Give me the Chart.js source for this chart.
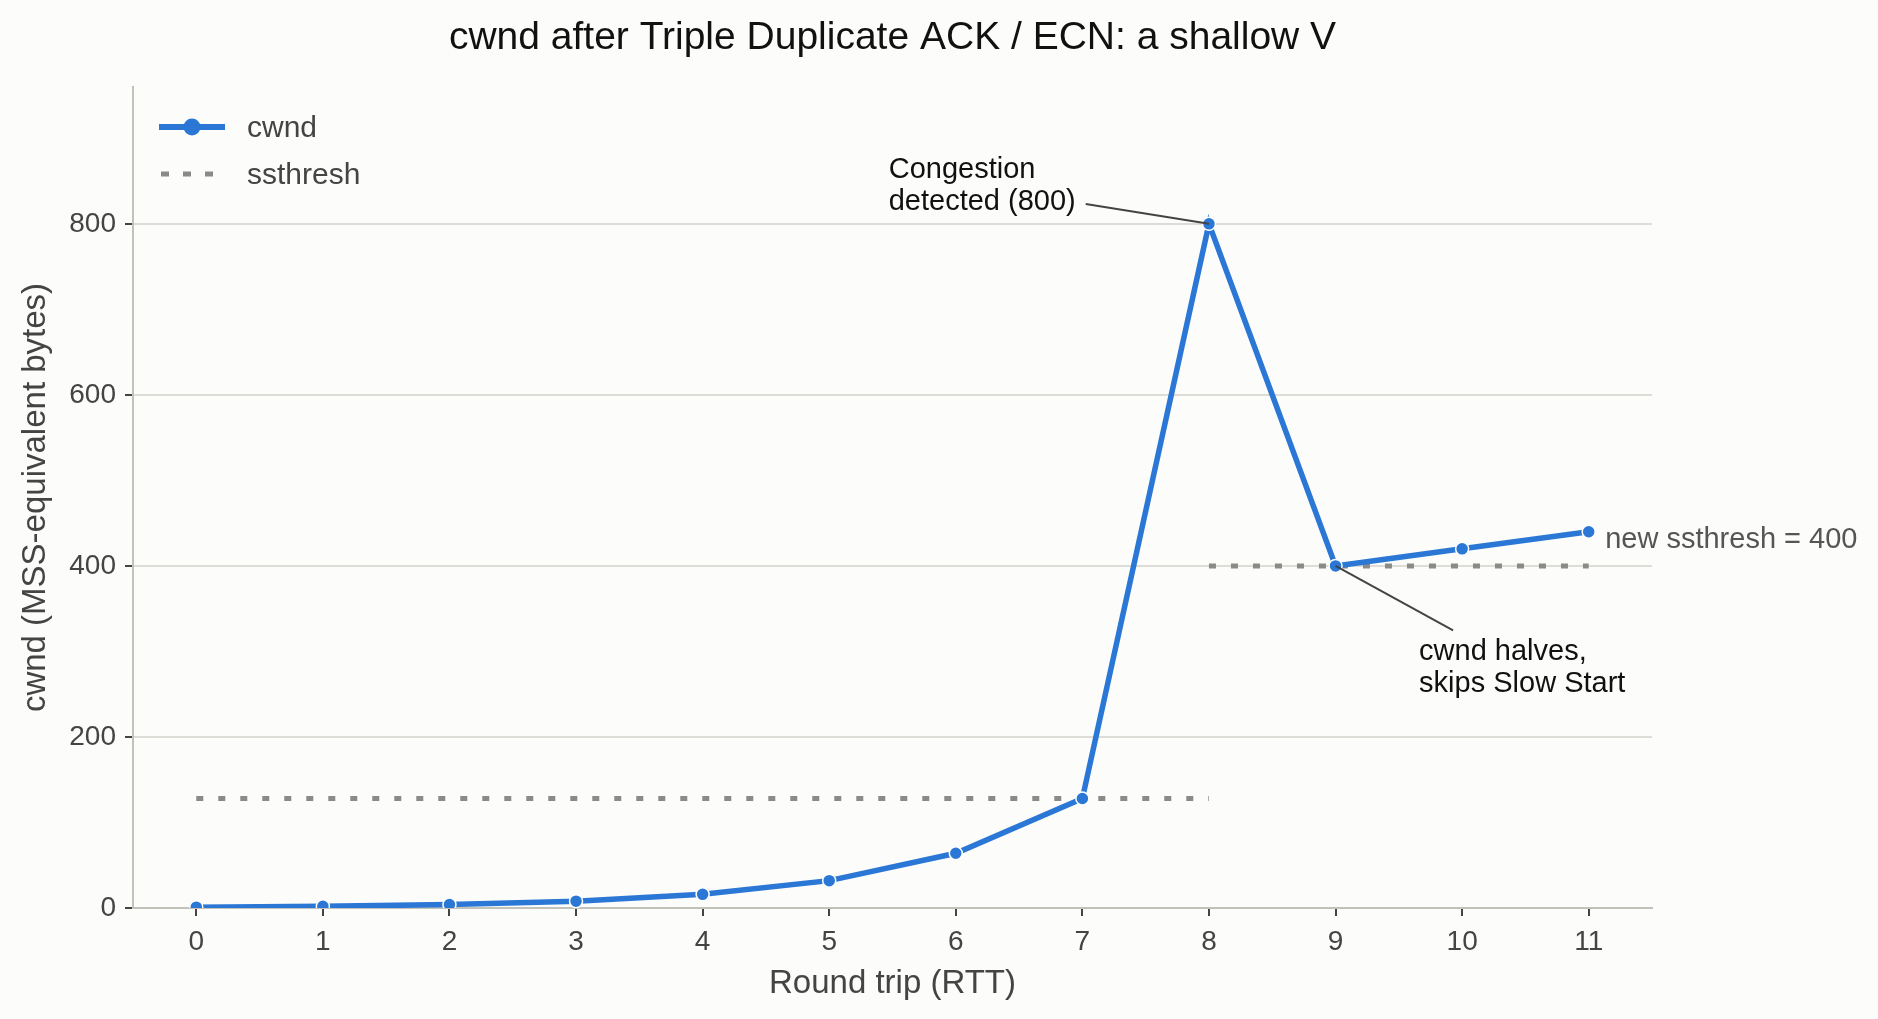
<!DOCTYPE html>
<html>
<head>
<meta charset="utf-8">
<script src="https://cdn.jsdelivr.net/npm/chart.js@4.4.1/dist/chart.umd.min.js"></script>
<style>
  html, body { margin: 0; padding: 0; background: #fcfcfa; }
  #wrap { width: 1878px; height: 1019px; }
</style>
</head>
<body>
<div id="wrap"><canvas id="chart" width="1878" height="1019"></canvas></div>
<script>
const rounds = [0, 1, 2, 3, 4, 5, 6, 7, 8, 9, 10, 11];
const cwnd = [1, 2, 4, 8, 16, 32, 64, 128, 800, 400, 420, 440];
const ssthreshX = [0, 8, 8, 8, 11];
const ssthreshY = [128, 128, null, 400, 400];
const xTicks = [0, 1, 2, 3, 4, 5, 6, 7, 8, 9, 10, 11];
const yTicks = [0, 200, 400, 600, 800];

const BLUE = '#2a77d6';
const DOT = '#8a8a88';
const FONT = "'Liberation Sans', Arial, sans-serif";

// notes: text lines, text anchor (data units), arrow target (data units)
const notes = [
    { lines: ['Congestion', 'detected (800)'], x: 5.47, y: 863, color: '#111', target: { x: 8, y: 800 }, from: 'right' },
    { lines: ['cwnd halves,', 'skips Slow Start'], x: 9.66, y: 299, color: '#111', target: { x: 9, y: 400 }, from: 'top' },
    { lines: ['new ssthresh = 400'], x: 11.13, y: 430, color: '#555', target: null }
];

const drawExtras = {
    id: 'drawExtras',
    afterDatasetsDraw(chart) {
        const { ctx, chartArea, scales: { x, y } } = chart;
        ctx.save();
        // title
        ctx.fillStyle = '#111';
        ctx.font = `39px ${FONT}`;
        ctx.textAlign = 'center';
        ctx.textBaseline = 'middle';
        ctx.fillText('cwnd after Triple Duplicate ACK / ECN: a shallow V', (chartArea.left + chartArea.right) / 2, 38);

        // annotations
        ctx.font = `29px ${FONT}`;
        ctx.textAlign = 'left';
        notes.forEach(n => {
            const px = x.getPixelForValue(n.x);
            const py = y.getPixelForValue(n.y);
            ctx.fillStyle = n.color;
            n.lines.forEach((t, i) => ctx.fillText(t, px, py + i * 32));
            if (n.target) {
                let sx, sy;
                if (n.from === 'right') {
                    const w = ctx.measureText(n.lines[n.lines.length - 1]).width;
                    sx = px + w + 10;
                    sy = py + (n.lines.length - 1) * 32 + 2;
                } else {
                    sx = px + 34;
                    sy = py - 22;
                }
                ctx.strokeStyle = '#444';
                ctx.lineWidth = 2;
                ctx.beginPath();
                ctx.moveTo(sx, sy);
                ctx.lineTo(x.getPixelForValue(n.target.x), y.getPixelForValue(n.target.y));
                ctx.stroke();
            }
        });

        // legend
        const lx = chartArea.left + 26;
        ctx.strokeStyle = BLUE;
        ctx.lineWidth = 6;
        ctx.beginPath();
        ctx.moveTo(lx, 127);
        ctx.lineTo(lx + 66, 127);
        ctx.stroke();
        ctx.fillStyle = BLUE;
        ctx.beginPath();
        ctx.arc(lx + 33, 127, 8.5, 0, Math.PI * 2);
        ctx.fill();
        ctx.strokeStyle = DOT;
        ctx.lineWidth = 5;
        ctx.setLineDash([8, 14]);
        ctx.beginPath();
        ctx.moveTo(lx + 2, 174);
        ctx.lineTo(lx + 60, 174);
        ctx.stroke();
        ctx.setLineDash([]);
        ctx.fillStyle = '#444';
        ctx.font = `30px ${FONT}`;
        ctx.fillText('cwnd', lx + 88, 129);
        ctx.fillText('ssthresh', lx + 88, 176);
        ctx.restore();
    }
};

new Chart(document.getElementById('chart'), {
    type: 'line',
    data: {
        datasets: [
            {
                label: 'cwnd',
                data: rounds.map((r, i) => ({ x: r, y: cwnd[i] })),
                borderColor: BLUE,
                backgroundColor: BLUE,
                borderWidth: 5.5,
                pointRadius: 6.5,
                pointBorderColor: '#ffffff',
                pointBorderWidth: 1.5,
                pointBackgroundColor: BLUE,
                tension: 0,
                order: 1
            },
            {
                label: 'ssthresh',
                data: ssthreshX.map((v, i) => ({ x: v, y: ssthreshY[i] })),
                borderColor: DOT,
                borderWidth: 5,
                borderDash: [7, 15],
                pointRadius: 0,
                spanGaps: false,
                tension: 0,
                order: 2
            }
        ]
    },
    options: {
        responsive: false,
        animation: false,
        devicePixelRatio: 1,
        layout: { padding: { top: 87, right: 226, left: 0, bottom: 0 } },
        plugins: { legend: { display: false }, tooltip: { enabled: false }, title: { display: false } },
        scales: {
            x: {
                type: 'linear',
                min: -0.5,
                max: 11.5,
                afterBuildTicks: s => { s.ticks = xTicks.map(v => ({ value: v })); },
                afterFit: s => { s.height = 111; },
                grid: { drawOnChartArea: false, tickColor: '#444', tickLength: 8, lineWidth: 2 },
                border: { color: '#c2c2ba', width: 2 },
                ticks: { color: '#444', font: { family: FONT, size: 28 }, padding: 9, maxRotation: 0 },
                title: { display: true, text: 'Round trip (RTT)', color: '#444', font: { family: FONT, size: 33 }, padding: { top: 0, bottom: 15 } }
            },
            y: {
                min: 0,
                max: 960,
                afterBuildTicks: s => { s.ticks = yTicks.map(v => ({ value: v })); },
                afterFit: s => { s.width = 133; },
                grid: { color: '#dddcd6', tickColor: '#444', tickLength: 8, lineWidth: 2 },
                border: { color: '#c2c2ba', width: 2 },
                ticks: { color: '#444', font: { family: FONT, size: 28 }, padding: 9 },
                title: { display: true, text: 'cwnd (MSS-equivalent bytes)', color: '#444', font: { family: FONT, size: 33 }, padding: { top: 16, bottom: 0 } }
            }
        }
    },
    plugins: [drawExtras]
});
</script>
</body>
</html>
